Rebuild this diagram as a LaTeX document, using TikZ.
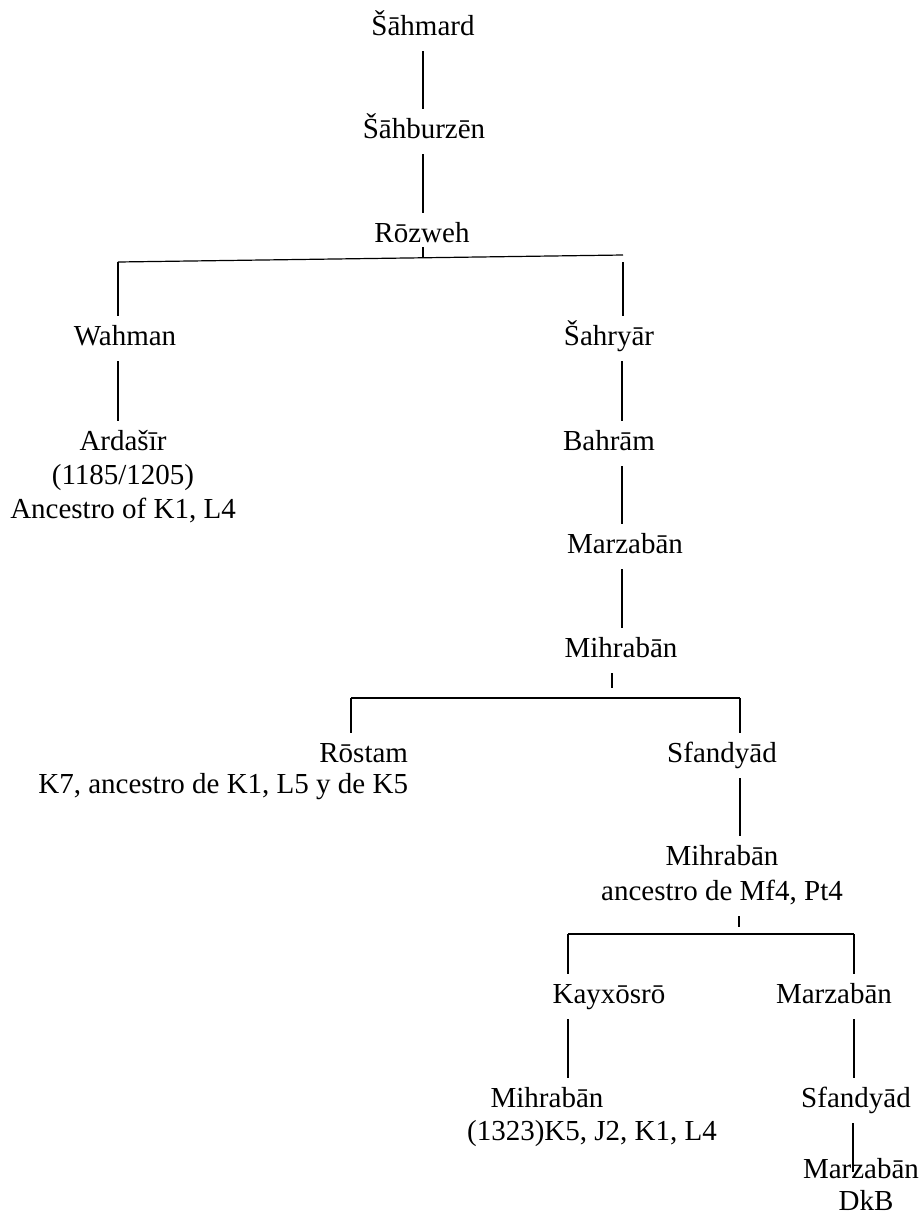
\documentclass[tikz,border=0pt]{standalone}
\usepackage{fontspec}
\setmainfont{Liberation Serif}
\begin{document}
\begin{tikzpicture}[x=1pt,y=-1pt,
  nm/.style={font=\fontsize{29}{34}\selectfont, inner sep=0pt, outer sep=0pt, outer ysep=9pt,
    text height=20pt, text depth=7pt, anchor=base},
  ln/.style={line width=1.2pt}]
\useasboundingbox[fill=white] (0,0) rectangle (923,1216);
% columns
\coordinate (c1) at (423,0);
\coordinate (cw) at (118,0);
\coordinate (cs) at (622,0);
\coordinate (ct) at (612,0);
\coordinate (cr) at (351,0);
\coordinate (cf) at (740,0);
\coordinate (ck) at (568,0);
\coordinate (cm) at (854,0);
% bars
\coordinate (b1l) at (118,262);
\coordinate (b1r) at (623,255);
\coordinate (b1m) at (423,258.2);
\coordinate (b1rd) at (623,262);
\coordinate (t2e) at (612,688);
\coordinate (b2l) at (351,698);
\coordinate (b2r) at (740,698);
\coordinate (t3e) at (739,927);
\coordinate (b3l) at (568,934);
\coordinate (b3r) at (854,934);
\coordinate (e19) at (853,1172);
% nodes
\node[nm] (shahmard) at (423,35) {Šāhmard};
\node[nm] (shahburzen) at (424,138) {Šāhburzēn};
\node[nm] (rozweh) at (422,242) {Rōzweh};
\node[nm] (wahman) at (125,345) {Wahman};
\node[nm] (shahryar) at (609,345) {Šahryār};
\node[nm] (ardashir) at (123,450) {Ardašīr};
\node[nm] (ardashirb) at (123,484) {(1185/1205)};
\node[nm] (ardashirc) at (123,518) {Ancestro of K1, L4};
\node[nm] (bahram) at (609,450) {Bahrām};
\node[nm] (marzaban) at (625,553) {Marzabān};
\node[nm] (mihraban) at (621,657) {Mihrabān};
\node[nm, anchor=base east] (rostam) at (408,762) {Rōstam};
\node[nm, anchor=base east] (rostamb) at (408,793) {K7, ancestro de K1, L5 y de K5};
\node[nm] (sfandyad) at (722,762) {Sfandyād};
\node[nm] (mihrabanb) at (722,865) {Mihrabān};
\node[nm] (mihrabanbb) at (722,900) {ancestro de Mf4, Pt4};
\node[nm] (kayxosro) at (609,1003) {Kayxōsrō};
\node[nm] (marzabanb) at (834,1003) {Marzabān};
\node[nm] (mihrabanc) at (547,1107) {Mihrabān};
\node[nm] (mihrabancb) at (592,1140) {(1323)K5, J2, K1, L4};
\node[nm] (sfandyadb) at (856,1107) {Sfandyād};
\node[nm] (marzabanc) at (861,1178) {Marzabān};
\node[nm] (dkb) at (866,1210) {DkB};
% connectors
\draw[ln] (shahmard.south -| c1) -- (shahburzen.north -| c1);
\draw[ln] (shahburzen.south -| c1) -- (rozweh.north -| c1);
\draw[ln] ([yshift=-5pt]rozweh.base -| c1) -- (b1m);
\draw[ln] (b1l) -- (b1r);
\draw[ln] (b1l) -- (wahman.north -| cw);
\draw[ln] (b1rd) -- (shahryar.north -| b1rd);
\draw[ln] (wahman.south -| cw) -- (ardashir.north -| cw);
\draw[ln] (shahryar.south -| cs) -- (bahram.north -| cs);
\draw[ln] (bahram.south -| cs) -- (marzaban.north -| cs);
\draw[ln] (marzaban.south -| cs) -- (mihraban.north -| cs);
\draw[ln] (mihraban.south -| ct) -- (t2e);
\draw[ln] (b2l) -- (b2r);
\draw[ln] (b2l) -- (rostam.north -| cr);
\draw[ln] (b2r) -- (sfandyad.north -| cf);
\draw[ln] (sfandyad.south -| cf) -- (mihrabanb.north -| cf);
\draw[ln] (mihrabanbb.south -| t3e) -- (t3e);
\draw[ln] (b3l) -- (b3r);
\draw[ln] (b3l) -- (kayxosro.north -| ck);
\draw[ln] (b3r) -- (marzabanb.north -| cm);
\draw[ln] (kayxosro.south -| ck) -- (mihrabanc.north -| ck);
\draw[ln] (marzabanb.south -| cm) -- (sfandyadb.north -| cm);
\draw[ln] (sfandyadb.south -| e19) -- (e19);
\end{tikzpicture}
\end{document}
